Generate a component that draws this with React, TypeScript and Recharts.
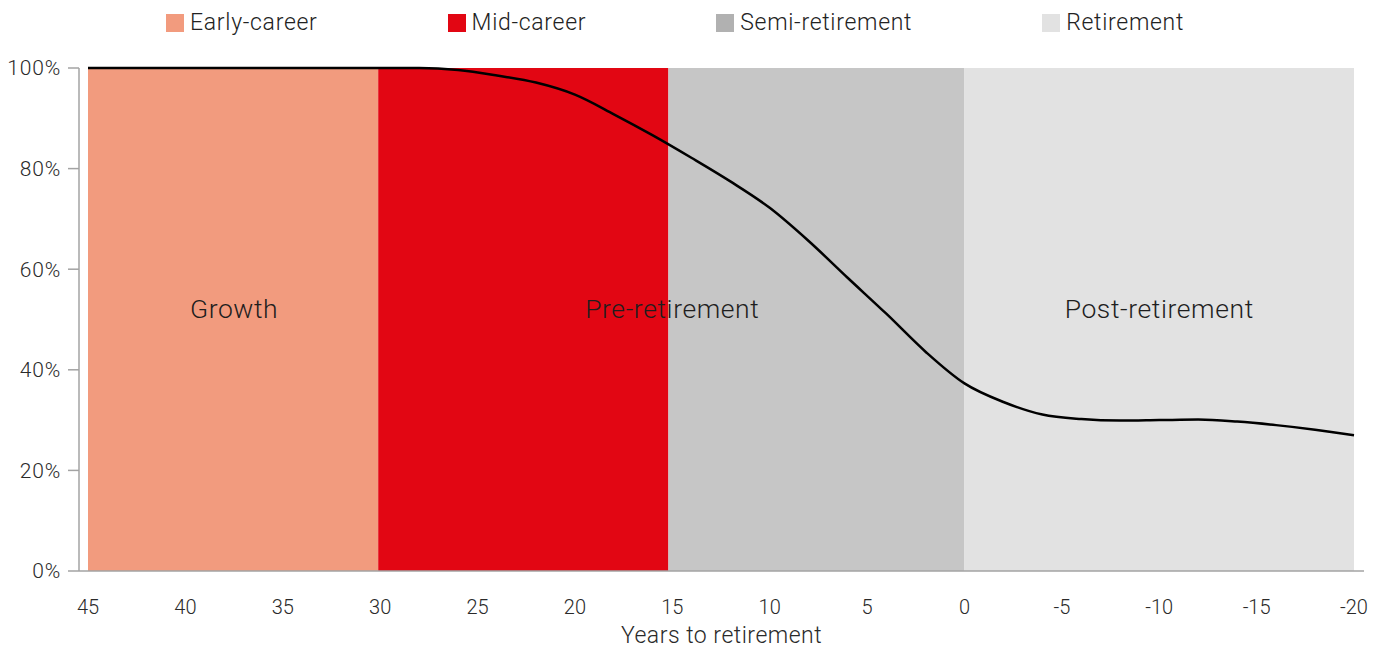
import React from "react";
import { ComposedChart, Line, ReferenceArea, XAxis, YAxis, Label } from "recharts";

// career stages (legend + background bands), in years to retirement
const stageNames = ["Early-career", "Mid-career", "Semi-retirement", "Retirement"];
const stageStart = [45, 30.1, 15.2, 0];
const stageEnd = [30.1, 15.2, 0, -20];

// investment phases written across the bands
const phaseNames = ["Growth", "Pre-retirement", "Post-retirement"];
const phaseStart = [45, 30, 0];
const phaseEnd = [30, 0, -20];

// glide path: share in growth assets (%)
const years = [45, 40, 35, 30, 28, 26, 24, 22, 20, 18, 16, 14, 12, 10, 8, 6, 4, 2, 0, -2, -4, -6, -8, -10, -12, -14, -16, -18, -20];
const share = [100, 100, 100, 100, 100, 99.6, 98.5, 97.1, 94.7, 90.8, 86.6, 82.1, 77.4, 72.2, 65.6, 58.3, 51.1, 43.6, 37.3, 33.6, 31.1, 30.2, 29.9, 30, 30.1, 29.7, 29, 28.1, 27];

const xTicks = [45, 40, 35, 30, 25, 20, 15, 10, 5, 0, -5, -10, -15, -20];
const yTicks = [0, 20, 40, 60, 80, 100];

const stageColors = ["#F29B7E", "#E20613", "#C6C6C6", "#E2E2E2"];
const legendColors = ["#F29B7E", "#E20613", "#B1B1B1", "#E2E2E2"];

const data = years.map((year, i) => ({ year, value: share[i] }));

const FONT = "Roboto, 'Liberation Sans', sans-serif";

function PhaseLabel({ viewBox, text }: any) {
  const { x, y, width, height } = viewBox;
  return (
    <text
      x={x + width / 2}
      y={y + height / 2 - 2}
      textAnchor="middle"
      fill="#1e1e1e"
      fontSize={26.5}
      fontWeight={300}
      letterSpacing={0.6}
      fontFamily={FONT}
    >
      {text}
    </text>
  );
}

export default function App() {
  return (
    <div style={{ position: "absolute", left: 0, top: 0, width: 1384, height: 650, fontFamily: FONT, background: "#fff" }}>
      <div
        style={{
          position: "absolute",
          top: 12,
          left: 166,
          display: "flex",
          gap: 130,
          fontSize: 23,
          fontWeight: 300,
          letterSpacing: 0.7,
          color: "#222",
          lineHeight: "22px",
        }}
      >
        {stageNames.map((name, i) => (
          <div key={name} style={{ display: "flex", alignItems: "center", gap: 6 }}>
            <span style={{ width: 18, height: 18, background: legendColors[i], display: "inline-block" }} />
            <span>{name}</span>
          </div>
        ))}
      </div>
      <ComposedChart width={1384} height={650} data={data} margin={{ top: 68, right: 20, bottom: 0, left: 0 }}>
        {stageNames.map((name, i) => (
          <ReferenceArea
            key={name}
            x1={stageStart[i]}
            x2={stageEnd[i]}
            y1={0}
            y2={100}
            fill={stageColors[i]}
            fillOpacity={1}
            stroke="none"
          />
        ))}
        {phaseNames.map((name, i) => (
          <ReferenceArea
            key={name}
            x1={phaseStart[i]}
            x2={phaseEnd[i]}
            y1={0}
            y2={100}
            fill="none"
            fillOpacity={0}
            stroke="none"
            label={<PhaseLabel text={name} />}
          />
        ))}
        <XAxis
          dataKey="year"
          type="number"
          domain={[-20, 45]}
          reversed
          ticks={xTicks}
          interval={0}
          padding={{ left: 9, right: 10 }}
          height={79}
          tickLine={false}
          tickSize={0}
          tickMargin={29}
          axisLine={{ stroke: "#a3a3a3", strokeWidth: 1.5 }}
          tick={{ fill: "#2a2a2a", fontSize: 20, fontWeight: 300, fontFamily: FONT }}
        >
          <Label
            value="Years to retirement"
            position="insideBottom"
            offset={7}
            fill="#2a2a2a"
            fontSize={23}
            fontWeight={300}
            fontFamily={FONT}
            letterSpacing={0.5}
          />
        </XAxis>
        <YAxis
          type="number"
          domain={[0, 100]}
          ticks={yTicks}
          width={79}
          tickSize={11}
          tickMargin={7}
          tickFormatter={(v) => `${v}%`}
          axisLine={{ stroke: "#a3a3a3", strokeWidth: 1.5 }}
          tickLine={{ stroke: "#a3a3a3", strokeWidth: 1.5 }}
          tick={{ fill: "#2a2a2a", fontSize: 21, fontWeight: 300, fontFamily: FONT, letterSpacing: 0.8 }}
        />
        <Line
          dataKey="value"
          type="monotone"
          stroke="#000"
          strokeWidth={2.5}
          dot={false}
          activeDot={false}
          isAnimationActive={false}
        />
      </ComposedChart>
    </div>
  );
}
